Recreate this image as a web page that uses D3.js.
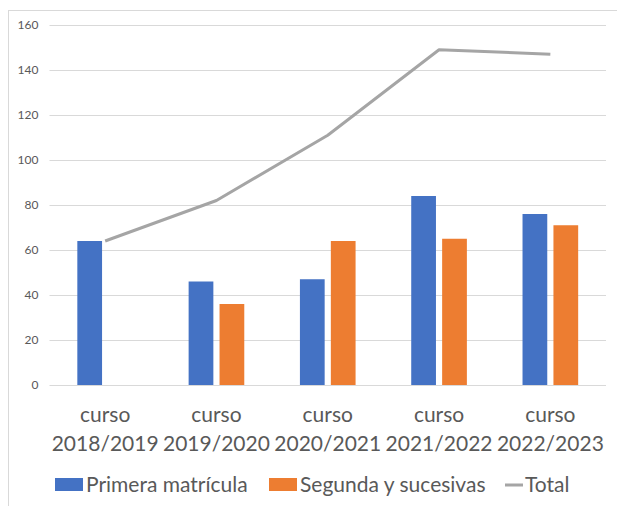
<!DOCTYPE html>
<html>
<head>
<meta charset="utf-8">
<script src="https://cdn.jsdelivr.net/npm/d3@7"></script>
<style>
  body { margin: 0; background: #fff; }
  text { font-family: Lato, "Open Sans", sans-serif; fill: #595959; }
</style>
</head>
<body>
<div id="chart"></div>
<script>
const categories = ["curso 2018/2019", "curso 2019/2020", "curso 2020/2021", "curso 2021/2022", "curso 2022/2023"]
const primera = [64, 46, 47, 84, 76]
const segunda = [null, 36, 64, 65, 71]
const total = [64, 82, 111, 149, 147]
const yTicks = [0, 20, 40, 60, 80, 100, 120, 140, 160]
const seriesNames = ["Primera matrícula", "Segunda y sucesivas", "Total"]

const svgWidth = 617
const svgHeight = 506
let margin = { top: 25, right: 11, bottom: 121, left: 49.5 }
let width = svgWidth - margin.left - margin.right
let height = svgHeight - margin.top - margin.bottom

let svg = d3.select("#chart")
  .append("svg")
  .attr("width", svgWidth)
  .attr("height", svgHeight)

// outer chart frame
svg.append("rect")
  .attr("x", 8.5)
  .attr("y", 10.5)
  .attr("width", 640)
  .attr("height", 520)
  .attr("fill", "none")
  .attr("stroke", "#d9d9d9")

let chartGroup = svg.append("g")
  .attr("transform", `translate(${margin.left}, ${margin.top})`)

let x0 = d3.scaleBand()
  .domain(categories)
  .range([0, width])
  .paddingInner(0.5)
  .paddingOuter(0.25)

let x1 = d3.scaleBand()
  .domain([0, 1])
  .range([0, x0.bandwidth()])
  .paddingInner(0.2)

let y = d3.scaleLinear()
  .domain([0, 160])
  .range([height, 0])

let leftAxis = d3.axisLeft(y)
  .tickValues(yTicks)
  .tickSize(-width)
  .tickPadding(11)

let yAxis = chartGroup.append("g").call(leftAxis)
yAxis.select(".domain").remove()
yAxis.selectAll(".tick line").attr("stroke", "#d9d9d9")
yAxis.selectAll(".tick text")
  .style("font-size", "12px")
  .attr("fill", "#595959")

let colors = ["#4472c4", "#ed7d31"]
let barData = []
categories.forEach((c, i) => {
  barData.push({ cat: c, s: 0, v: primera[i] })
  if (segunda[i] != null) barData.push({ cat: c, s: 1, v: segunda[i] })
})

chartGroup.selectAll("rect.bar")
  .data(barData)
  .enter()
  .append("rect")
  .attr("class", "bar")
  .attr("x", d => x0(d.cat) + x1(d.s))
  .attr("y", d => y(d.v))
  .attr("width", x1.bandwidth())
  .attr("height", d => height - y(d.v))
  .attr("fill", d => colors[d.s])

let line = d3.line()
  .x((d, i) => x0(categories[i]) + x0.bandwidth() / 2)
  .y(d => y(d))

chartGroup.append("path")
  .datum(total)
  .attr("d", line)
  .attr("fill", "none")
  .attr("stroke", "#a5a5a5")
  .attr("stroke-width", 3)
  .attr("stroke-linejoin", "round")

// category labels on two lines
let xLabels = chartGroup.append("g")
categories.forEach(c => {
  let parts = c.split(" ")
  let t = xLabels.append("text")
    .attr("text-anchor", "middle")
    .style("font-size", "21px")
  parts.forEach((p, j) => {
    t.append("tspan")
      .attr("x", x0(c) + x0.bandwidth() / 2)
      .attr("y", height + 37 + j * 29)
      .text(p)
  })
})

// legend
let legend = svg.append("g").attr("transform", "translate(0, 492)")
let legendItems = [
  { name: seriesNames[0], type: "rect", color: colors[0], x: 55 },
  { name: seriesNames[1], type: "rect", color: colors[1], x: 269 },
  { name: seriesNames[2], type: "line", color: "#a5a5a5", x: 505 }
]
legendItems.forEach(d => {
  if (d.type === "rect") {
    legend.append("rect")
      .attr("x", d.x)
      .attr("y", -14)
      .attr("width", 28)
      .attr("height", 13)
      .attr("fill", d.color)
  } else {
    legend.append("line")
      .attr("x1", d.x)
      .attr("x2", d.x + 18)
      .attr("y1", -7)
      .attr("y2", -7)
      .attr("stroke", d.color)
      .attr("stroke-width", 3)
  }
  legend.append("text")
    .attr("x", d.type === "rect" ? d.x + 31 : d.x + 20)
    .attr("y", 0)
    .style("font-size", "21px")
    .text(d.name)
})
</script>
</body>
</html>
